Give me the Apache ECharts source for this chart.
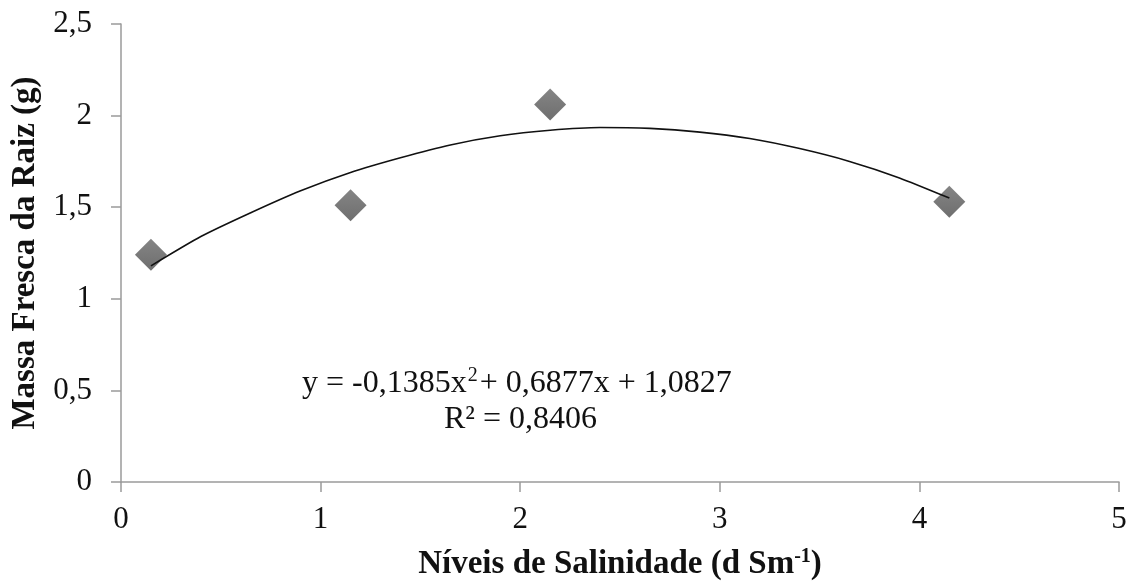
<!DOCTYPE html>
<html>
<head>
<meta charset="utf-8">
<script src="https://cdn.jsdelivr.net/npm/echarts@6/dist/echarts.min.js"></script>
<style>
  html, body { margin: 0; padding: 0; background: #fff; }
  #main { width: 1136px; height: 584px; }
</style>
</head>
<body>
<div id="main"></div>
<script>
// salinity levels (dS m-1) and measured root fresh mass (g)
var salinidade = [0.15, 1.15, 2.15, 4.15];
var massaRaiz = [1.24, 1.51, 2.06, 1.53];

// trendline
var trendX = [0.15, 0.4, 0.65, 0.9, 1.15, 1.4, 1.65, 1.9, 2.15, 2.4, 2.65, 2.9, 3.15, 3.4, 3.65, 3.9, 4.15];
var trendY = [1.18, 1.34, 1.47, 1.59, 1.69, 1.77, 1.84, 1.89, 1.92, 1.935, 1.93, 1.91, 1.875, 1.82, 1.75, 1.66, 1.55];

var yTicks = [0, 0.5, 1, 1.5, 2, 2.5];
var xTicks = [0, 1, 2, 3, 4, 5];

var fontFam = '"Liberation Serif", "Times New Roman", serif';
var axisGrey = '#9a9a9a';

var chart = echarts.init(document.getElementById('main'), null, { renderer: 'canvas' });

function zip(a, b) {
  return a.map(function (v, i) { return [v, b[i]]; });
}

var option = {
  backgroundColor: '#ffffff',
  animation: false,
  grid: { left: 121, right: 17, top: 24, bottom: 102, containLabel: false, outerBoundsMode: 'none' },
  xAxis: {
    type: 'value',
    min: xTicks[0],
    max: xTicks[xTicks.length - 1],
    interval: 1,
    splitLine: { show: false },
    axisLine: { show: true, onZero: false, lineStyle: { color: axisGrey, width: 1.5 } },
    axisTick: { show: true, length: 10, lineStyle: { color: axisGrey, width: 1.5 } },
    axisLabel: { color: '#111', fontFamily: fontFam, fontSize: 31, margin: 22 },
    name: '{b|Níveis de Salinidade (d Sm}{s|-1}{b|)}',
    nameLocation: 'middle',
    nameGap: 65,
    nameTextStyle: {
      rich: {
        b: { fontFamily: fontFam, fontSize: 33, fontWeight: 'bold', color: '#111' },
        s: { fontFamily: fontFam, fontSize: 20, fontWeight: 'bold', color: '#111', verticalAlign: 'top', padding: [0, 0, 14, 0] }
      }
    }
  },
  yAxis: {
    type: 'value',
    min: yTicks[0],
    max: yTicks[yTicks.length - 1],
    interval: 0.5,
    splitLine: { show: false },
    axisLine: { show: true, lineStyle: { color: axisGrey, width: 1.5 } },
    axisTick: { show: true, length: 10, lineStyle: { color: axisGrey, width: 1.5 } },
    axisLabel: {
      color: '#111', fontFamily: fontFam, fontSize: 31, margin: 29,
      formatter: function (v) { return String(v).replace('.', ','); }
    },
    name: 'Massa Fresca da Raiz (g)',
    nameLocation: 'middle',
    nameGap: 78,
    nameTextStyle: { fontFamily: fontFam, fontSize: 33, fontWeight: 'bold', color: '#111' }
  },
  graphic: [{
    type: 'text',
    left: 302,
    top: 366,
    style: {
      text: '{t|y = -0,1385x}{s|2}{t|+ 0,6877x + 1,0827}',
      rich: {
        t: { fontFamily: fontFam, fontSize: 32, fill: '#111' },
        s: { fontFamily: fontFam, fontSize: 20, fill: '#111', verticalAlign: 'top', padding: [0, 2, 16, 1] }
      }
    }
  }, {
    type: 'text',
    left: 444,
    top: 404,
    style: { text: 'R² = 0,8406', fontFamily: fontFam, fontSize: 32, fill: '#111' }
  }],
  series: [{
    type: 'line',
    data: zip(trendX, trendY),
    smooth: 0.2,
    showSymbol: false,
    symbol: 'none',
    lineStyle: { color: '#111', width: 1.6 },
    z: 3
  }, {
    type: 'scatter',
    data: zip(salinidade, massaRaiz),
    symbol: 'diamond',
    symbolSize: [32, 32],
    itemStyle: {
      color: new echarts.graphic.LinearGradient(0, 0, 0, 1, [
        { offset: 0, color: '#666666' },
        { offset: 1, color: '#4a4a4a' }
      ])
    },
    z: 2
  }]
};

chart.setOption(option);
</script>
</body>
</html>
